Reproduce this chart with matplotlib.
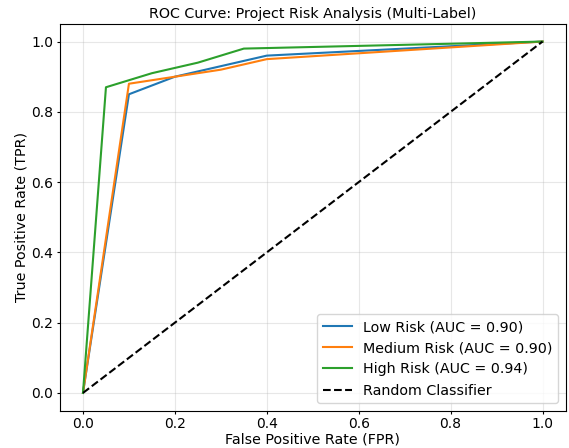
import matplotlib
matplotlib.use("Agg")
import matplotlib.pyplot as plt

fpr_low = [0.0, 0.1, 0.2, 0.4, 1.0]
tpr_low = [0.0, 0.85, 0.90, 0.96, 1.0]
fpr_med = [0.0, 0.1, 0.2, 0.3, 0.4, 1.0]
tpr_med = [0.0, 0.88, 0.90, 0.92, 0.95, 1.0]
fpr_high = [0.0, 0.05, 0.15, 0.25, 0.35, 1.0]
tpr_high = [0.0, 0.87, 0.91, 0.94, 0.98, 1.0]
labels = ["Low Risk (AUC = 0.90)", "Medium Risk (AUC = 0.90)", "High Risk (AUC = 0.94)"]

fig = plt.figure(figsize=(5.69, 4.48), dpi=100)
ax = fig.add_axes([60/569, 37.5/448, 505.5/569, 386.5/448])
ax.plot(fpr_low, tpr_low, color="#1f77b4", label=labels[0])
ax.plot(fpr_med, tpr_med, color="#ff7f0e", label=labels[1])
ax.plot(fpr_high, tpr_high, color="#2ca02c", label=labels[2])
ax.plot([0, 1], [0, 1], "k--", label="Random Classifier")
ax.set_title("ROC Curve: Project Risk Analysis (Multi-Label)", fontsize=10.3, pad=4)
ax.set_xlabel("False Positive Rate (FPR)", fontsize=10.3, labelpad=1)
ax.set_ylabel("True Positive Rate (TPR)", fontsize=10.3, labelpad=2)
ax.tick_params(labelsize=10, length=2.5, pad=2.2)
ax.grid(True, alpha=0.3)
ax.legend(loc="lower right", fontsize=10.3)
fig.savefig("out.png", dpi=100)
